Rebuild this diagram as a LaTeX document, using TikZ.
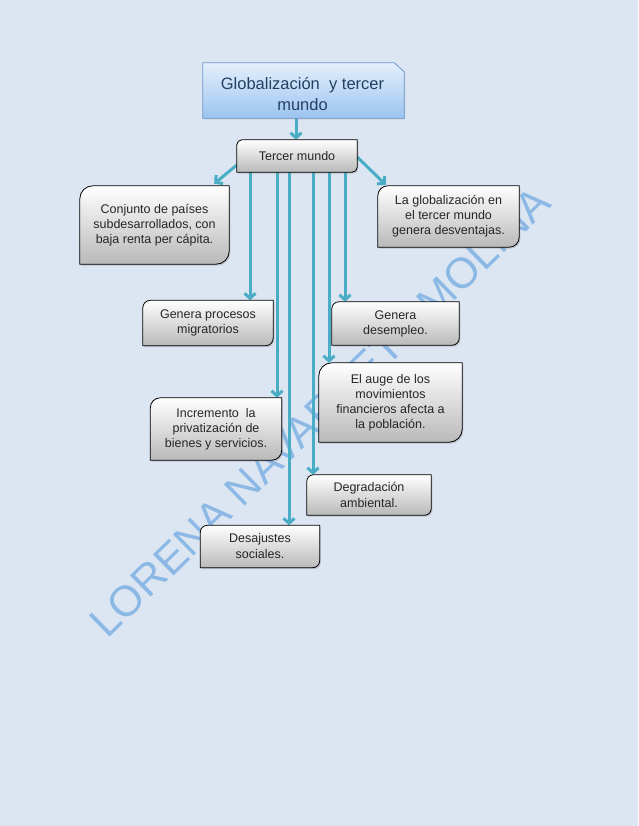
\documentclass[tikz,border=0pt]{standalone}
\usepackage{fontspec}
\setmainfont{Liberation Sans}
\usetikzlibrary{arrows.meta,shadows,calc}

\definecolor{bg}{RGB}{220,230,242}
\definecolor{arrowc}{RGB}{75,172,198}
\definecolor{titletext}{RGB}{36,64,97}
\definecolor{titleborder}{RGB}{110,150,205}
\definecolor{titletop}{RGB}{228,239,252}
\definecolor{titlebot}{RGB}{156,196,240}
\definecolor{boxbot}{RGB}{185,185,185}
\definecolor{wm}{RGB}{140,184,230}

\pgfdeclarelayer{bgl}
\pgfdeclarelayer{arrl}
\pgfdeclarelayer{boxl}
\pgfsetlayers{bgl,arrl,boxl,main}

\tikzset{
 lbl/.style={inner sep=0pt, align=center, font=\fontsize{12.5}{15}\selectfont, text=black!85},
 boxshape/.style={draw=black, line width=0.8pt, top color=white, bottom color=boxbot,
   drop shadow={shadow xshift=1.2pt, shadow yshift=-1.5pt, opacity=0.35}},
 titleshape/.style={draw=titleborder, line width=0.8pt, top color=titletop, bottom color=titlebot,
   drop shadow={shadow xshift=1pt, shadow yshift=-1.2pt, opacity=0.25}},
 arr/.style={draw=arrowc, line width=3pt, -{Straight Barb[length=5pt,width=11pt]}},
}

\newcommand{\rdbox}[2]{%
 \path[boxshape] (#1.south west) -- ([yshift=-#2]#1.north west)
   arc[start angle=180,end angle=90,radius=#2] -- (#1.north east)
   -- ([yshift=#2]#1.south east) arc[start angle=0,end angle=-90,radius=#2] -- cycle;
}

\begin{document}
\begin{tikzpicture}[x=1pt,y=-1pt]
\useasboundingbox (0,0) rectangle (638,826);
\begin{pgfonlayer}{bgl}
\fill[bg] (0,0) rectangle (638,826);
\node[rotate=44.3, text=wm, font=\fontsize{43}{43}\selectfont, inner sep=0pt] (wmk) at (320,412) {LORENA NAVARRETE MOLINA};
\end{pgfonlayer}

% text nodes
\node[inner sep=0pt, minimum width=201pt, minimum height=55pt] (title) at (303.5,90.5) {};
\node[inner sep=0pt, align=center, font=\fontsize{16.5}{21}\selectfont, text=titletext] (titletxt) at (302.5,94.5) {Globalización \ y tercer\\mundo};
\node[lbl, minimum width=120pt, minimum height=32pt] (tm) at (297,156) {Tercer mundo};
\node[lbl, minimum width=149pt, minimum height=78pt] (conj) at (154.5,225) {Conjunto de países\\subdesarrollados, con\\baja renta per cápita.};
\node[lbl, minimum width=141pt, minimum height=61pt] (glob) at (448.5,216.5) {La globalización en\\el tercer mundo\\genera desventajas.};
\node[lbl, minimum width=130pt, minimum height=45pt] (proc) at (208,323) {Genera procesos\\migratorios};
\node[lbl, minimum width=127pt, minimum height=43pt] (desem) at (395.5,323.5) {Genera\\desempleo.};
\node[lbl, minimum width=143pt, minimum height=79pt] (auge) at (390.5,402.5) {El auge de los\\movimientos\\financieros afecta a\\la población.};
\node[lbl, minimum width=131pt, minimum height=62pt] (incr) at (216,429) {Incremento \ la\\privatización de\\bienes y servicios.};
\node[lbl, minimum width=124pt, minimum height=40pt, font=\fontsize{12.5}{16}\selectfont] (degr) at (369,495) {Degradación\\ambiental.};
\node[lbl, minimum width=119pt, minimum height=42pt, font=\fontsize{12.5}{16}\selectfont] (desaj) at (260,546.5) {Desajustes\\sociales.};

% box shapes
\begin{pgfonlayer}{boxl}
\path[titleshape] (title.south west) -- (title.north west) -- ([xshift=-10pt]title.north east)
  -- ([yshift=-9pt]title.north east) -- (title.south east) -- cycle;
\rdbox{tm}{5pt}
\rdbox{conj}{13pt}
\rdbox{glob}{10pt}
\rdbox{proc}{7.5pt}
\rdbox{desem}{7pt}
\rdbox{auge}{13pt}
\rdbox{incr}{10pt}
\rdbox{degr}{6.5pt}
\rdbox{desaj}{7pt}
\end{pgfonlayer}

% arrows
\begin{pgfonlayer}{arrl}
\draw[arr] ([xshift=-1pt]tm.north |- title.south) -- ([xshift=-1pt]tm.north);
\draw[arr] ([yshift=-9pt]tm.west) -- ([xshift=-15pt,yshift=2pt]conj.north east);
\draw[arr] ([yshift=-1pt]tm.east) -- ([xshift=8pt,yshift=1pt]glob.north west);
\draw[arr] ([xshift=-47pt]tm.south) -- ([xshift=-47pt]tm.south |- proc.north);
\draw[arr] ([xshift=-20pt]tm.south) -- ([xshift=-20pt]tm.south |- incr.north);
\draw[arr] ([xshift=-8pt]tm.south) -- ([xshift=-8pt]tm.south |- desaj.north);
\draw[arr] ([xshift=16pt]tm.south) -- ([xshift=16pt]tm.south |- degr.north);
\draw[arr] ([xshift=32pt]tm.south) -- ([xshift=32pt]tm.south |- auge.north);
\draw[arr] ([xshift=48pt]tm.south) -- ([xshift=48pt]tm.south |- desem.north);
\end{pgfonlayer}
\end{tikzpicture}
\end{document}
